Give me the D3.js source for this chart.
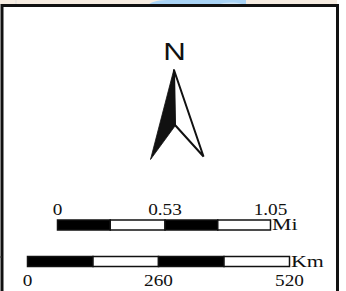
<!DOCTYPE html>
<meta charset="utf-8">
<html>
<head>
  <script src="https://d3js.org/d3.v7.min.js" charset="utf-8"></script>
</head>
<style>
body { margin: 0; background: white; }
svg { display: block; }
.lbl { font-family: "Liberation Serif", serif; font-size: 17.5px; fill: #111; }
</style>
<body>
<div id="container"></div>
<script type="text/javascript">

var width = 346;
var height = 291;

// scale bar values
var miTicks = [0, 0.53, 1.05];
var miSegments = [0, 0.26, 0.53, 0.79, 1.05];
var miUnit = "Mi";
var kmTicks = [0, 260, 520];
var kmSegments = [0, 130, 260, 390, 520];
var kmUnit = "Km";
var northLabel = "N";

var svg = d3.select("#container")
            .append("svg")
            .attr("width", width)
            .attr("height", height);

svg.append("rect").attr("width", width).attr("height", height).attr("fill", "white");

// bit of the map above the inset
svg.append("rect")
   .attr("x", 0).attr("y", 0).attr("width", 337).attr("height", 5)
   .attr("fill", "#f6ece1");
svg.append("path")
   .attr("d", "M148,5 C152,1 160,0 170,0 L246,0 L246,5 Z")
   .attr("fill", "#a9d3f5");
svg.append("path")
   .attr("d", "M218,5 C224,2 234,2 242,4 L242,5 Z")
   .attr("fill", "#cfe6f8");
svg.append("line")
   .attr("x1", 16).attr("x2", 16).attr("y1", 0).attr("y2", 5)
   .attr("stroke", "#ddd").attr("stroke-width", 1);

// frame
svg.append("rect")
   .attr("x", 2).attr("y", 5.5).attr("width", 335.5).attr("height", 300)
   .attr("fill", "white")
   .attr("stroke", "#111")
   .attr("stroke-width", 3);
svg.append("line")
   .attr("x1", 0).attr("x2", 2).attr("y1", 257).attr("y2", 257)
   .attr("stroke", "#333").attr("stroke-width", 1);

// north arrow
var na = svg.append("g");
na.append("text")
  .attr("transform", "translate(174.5,59.5) scale(1.33,1)")
  .attr("text-anchor", "middle")
  .attr("font-family", "Liberation Sans, Arial, sans-serif")
  .attr("font-size", "23.5px")
  .attr("fill", "#111")
  .text(northLabel);
na.append("path")
  .attr("d", "M174,70 L203.5,156.5 L175,125 Z")
  .attr("fill", "white")
  .attr("stroke", "#111")
  .attr("stroke-width", 2)
  .attr("stroke-linejoin", "miter");
na.append("path")
  .attr("d", "M174,69 L150.5,159.5 L175,126 Z")
  .attr("fill", "#111")
  .attr("stroke", "#111")
  .attr("stroke-width", 0.8);

function scaleBar(domainMax, segs, ticks, unit, x0, x1, y, labelsAbove) {
  var x = d3.scaleLinear().domain([0, domainMax]).range([x0, x1]);
  var g = svg.append("g");
  var pairs = d3.pairs(segs);
  g.selectAll("rect.seg")
   .data(pairs)
   .enter()
   .append("rect")
   .attr("class", "seg")
   .attr("x", function(d) { return x(d[0]); })
   .attr("y", y)
   .attr("width", function(d) { return x(d[1]) - x(d[0]); })
   .attr("height", 10)
   .attr("fill", function(d, i) { return i % 2 === 0 ? "#000" : "white"; })
   .attr("stroke", "#111")
   .attr("stroke-width", 1.5);
  g.selectAll("text.tick")
   .data(ticks)
   .enter()
   .append("text")
   .attr("class", "lbl")
   .attr("text-anchor", "middle")
   .attr("transform", function(d) {
     return "translate(" + x(d) + "," + (labelsAbove ? y - 5.5 : y + 29) + ") scale(1.1,1)";
   })
   .text(function(d) { return d; });
  g.append("text")
   .attr("class", "lbl")
   .attr("transform", "translate(" + (x1 + 1.5) + "," + (y + 10) + ") scale(1.25,1)")
   .text(unit);
}

scaleBar(miTicks[2], miSegments, miTicks, miUnit, 57.5, 270.5, 220, true);
scaleBar(kmTicks[2], kmSegments, kmTicks, kmUnit, 27.5, 289.5, 256.5, false);

</script>
</body>
</html>
